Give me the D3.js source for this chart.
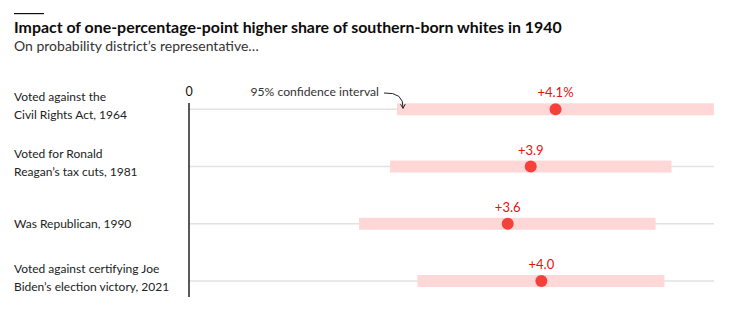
<!DOCTYPE html>
<html>
<head>
<meta charset="utf-8">
<script src="https://cdn.jsdelivr.net/npm/d3@7"></script>
<style>
  html, body { margin: 0; padding: 0; background: #fff; }
  svg { display: block; font-family: Lato, "Open Sans", sans-serif; }
</style>
</head>
<body>
<svg id="chart" width="741" height="325"></svg>
<script>
const categories = [
  ["Voted against the", "Civil Rights Act, 1964"],
  ["Voted for Ronald", "Reagan\u2019s tax cuts, 1981"],
  ["Was Republican, 1990"],
  ["Voted against certifying Joe", "Biden\u2019s election victory, 2021"]
];
const values = [4.14, 3.86, 3.60, 3.98];
const ciLow = [2.35, 2.27, 1.92, 2.58];
const ciHigh = [5.93, 5.45, 5.27, 5.37];
const valueLabels = ["+4.1%", "+3.9", "+3.6", "+4.0"];
const xDomain = [0, 5.93];
const zeroLabel = "0";

const svg = d3.select("#chart");

const x = d3.scaleLinear().domain(xDomain).range([189, 714]);
const y = d3.scalePoint().domain(d3.range(categories.length)).range([109.3, 281]);

// top rule
svg.append("rect").attr("x", 14).attr("y", 13).attr("width", 30).attr("height", 1.2).attr("fill", "#111");

svg.append("text").attr("x", 14).attr("y", 33)
  .attr("font-size", 15.9).attr("font-weight", 700).attr("fill", "#0c0c0c")
  .text("Impact of one-percentage-point higher share of southern-born whites in 1940");
svg.append("text").attr("x", 14).attr("y", 51)
  .attr("font-size", 14).attr("fill", "#333")
  .text("On probability district\u2019s representative\u2026");

// gridlines
svg.append("g").selectAll("line").data(categories).join("line")
  .attr("x1", x(0)).attr("x2", x(xDomain[1]))
  .attr("y1", (d, i) => y(i)).attr("y2", (d, i) => y(i))
  .attr("stroke", "#e2e2e2").attr("stroke-width", 1.5);

// CI bars
svg.append("g").selectAll("rect").data(categories).join("rect")
  .attr("x", (d, i) => x(ciLow[i]))
  .attr("width", (d, i) => x(ciHigh[i]) - x(ciLow[i]))
  .attr("y", (d, i) => y(i) - 6).attr("height", 12)
  .attr("fill", "#ffd7d7");

// zero line + label
svg.append("line").attr("x1", x(0)).attr("x2", x(0)).attr("y1", 103).attr("y2", 297)
  .attr("stroke", "#000").attr("stroke-width", 1.3);
svg.append("text").attr("x", x(0)).attr("y", 96).attr("text-anchor", "middle")
  .attr("font-size", 12.5).attr("fill", "#111").text(zeroLabel);

// dots
svg.append("g").selectAll("circle").data(values).join("circle")
  .attr("cx", d => x(d)).attr("cy", (d, i) => y(i)).attr("r", 6)
  .attr("fill", "#f5403c");

// value labels
svg.append("g").selectAll("text").data(values).join("text")
  .attr("x", d => x(d)).attr("y", (d, i) => y(i) - 12)
  .attr("text-anchor", "middle").attr("font-size", 13).attr("fill", "#e3120b")
  .text((d, i) => valueLabels[i]);

// row labels
const lab = svg.append("g").selectAll("text").data(categories).join("text")
  .attr("x", 14).attr("font-size", 12).attr("fill", "#222");
lab.each(function(d, i) {
  const t = d3.select(this);
  const n = d.length;
  const start = n === 1 ? 4 : -8.5;
  d.forEach((line, j) => {
    t.append("tspan").attr("x", 14).attr("y", y(i) + start + j * 18).text(line);
  });
});

// annotation
svg.append("text").attr("x", 379).attr("y", 96).attr("text-anchor", "end")
  .attr("font-size", 12.2).attr("fill", "#333").text("95% confidence interval");
const ax0 = 384, ay0 = 93;
const ax1 = x(ciLow[0]) + 6, ay1 = y(0) - 1;
svg.append("path")
  .attr("d", `M${ax0},${ay0} Q${ax1 + 1},${ay0 - 1} ${ax1},${ay1}`)
  .attr("fill", "none").attr("stroke", "#222").attr("stroke-width", 1);
svg.append("path")
  .attr("d", `M${ax1 - 2.5},${ay1 - 4} L${ax1},${ay1} L${ax1 + 2.2},${ay1 - 4.2}`)
  .attr("fill", "none").attr("stroke", "#222").attr("stroke-width", 1);
</script>
</body>
</html>
